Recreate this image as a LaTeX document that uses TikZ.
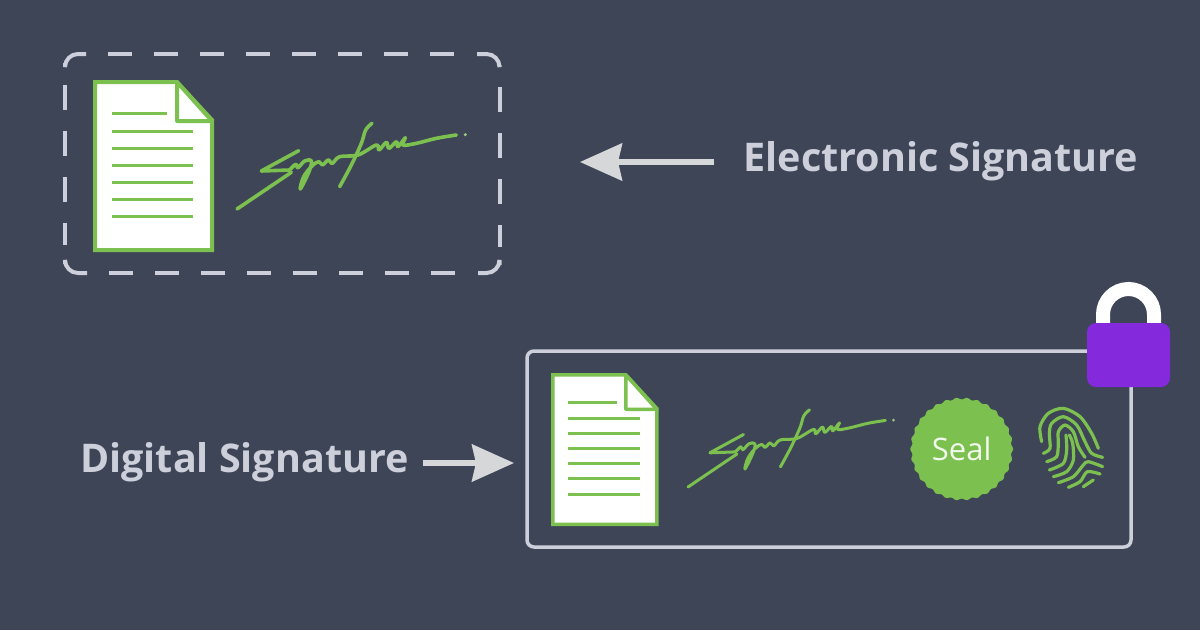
\documentclass[tikz,border=0pt]{standalone}
\usepackage{xcolor}
\usepackage{fontspec}
\setmainfont{Open Sans}
\usetikzlibrary{arrows.meta}
\definecolor{slatebg}{HTML}{3E4557}
\definecolor{framegrey}{HTML}{CDD0DA}
\definecolor{arrowgrey}{HTML}{D5D7D9}
\definecolor{leafgreen}{HTML}{7CC04F}
\definecolor{lockpurple}{HTML}{8529DC}
\tikzset{
    boxframe/.style={draw=framegrey, rounded corners=7pt, inner sep=0pt, outer sep=0pt},
    dashedge/.style={draw=framegrey, line width=4pt, dash pattern=on 24.5pt off 21.5pt},
    dashcorner/.style={draw=framegrey, line width=4pt, rounded corners=13pt},
    titletext/.style={text=framegrey, inner sep=0pt, font=\fontsize{39.5}{42}\selectfont\bfseries},
    bigarrow/.style={-{Stealth[length=42pt, width=37pt, inset=4pt]}, draw=arrowgrey, fill=arrowgrey, line width=5.5pt},
    inkline/.style={draw=leafgreen, line cap=round, line join=round},
    docline/.initial=4pt,
    docsheet/.pic={
        \draw[inkline, line cap=butt, line join=miter, fill=white, line width=\pgfkeysvalueof{/tikz/docline}]
            (2,2) -- (84,2) -- (119,40) -- (119,170) -- (2,170) -- cycle;
        \draw[inkline, line cap=butt, fill=white, line width=\pgfkeysvalueof{/tikz/docline}]
            (84,2) -- (84,41) -- (119,41) -- cycle;
        % Text lines
        \draw[inkline, line cap=butt, line width=3pt] (19,33.5) -- (74,33.5);
        \foreach \liney in {51,68,85,102,119,136} {
            \draw[inkline, line cap=butt, line width=3pt] (19,\liney) -- (100,\liney);
        }
    },
    sigmark/.pic={
        % Long lead-in stroke and first letter
        \draw[inkline, shift={(-22,-282)}] (22,282) -- (185,172);
        \draw[inkline, shift={(-22,-282)}] (207,107) -- (95,168) -- (180,165);
        % Looping letters
        \draw[inkline, shift={(-22,-282)}] plot[smooth, tension=0.6] coordinates {(180,165) (198,148) (205,158) (225,138) (245,138) (238,170) (212,222) (222,185) (248,152) (268,140) (278,150) (296,135) (308,145) (330,125) (385,120) (440,90) (448,105) (470,82) (478,100) (500,80) (505,95) (527,68) (520,90) (560,85) (620,70) (680,60)};
        % Tall cross stroke
        \draw[inkline, shift={(-22,-282)}] plot[smooth, tension=0.6] coordinates {(427,25) (408,45) (395,85) (365,150) (330,215)};
        % Dot
        \fill[leafgreen!60!framegrey, shift={(-22,-282)}] (707,59) circle (5);
    },
    whorl/.pic={
        \begin{scope}[inkline, line width=3.2pt]
            \draw plot[smooth] coordinates {(35,125) (30,80) (55,40) (100,25) (150,50) (185,100) (205,145)};
            \draw plot[smooth] coordinates {(40,160) (60,145) (58,100) (65,70) (100,50) (140,75) (165,125) (185,160) (218,172)};
            \draw plot[smooth] coordinates {(50,185) (80,170) (85,130) (85,95) (105,75) (130,95) (145,140) (165,172)};
            \draw plot[smooth] coordinates {(58,210) (100,190) (110,150) (108,105)};
            \draw plot[smooth] coordinates {(70,230) (110,215) (130,180) (128,130) (118,105)};
            \draw plot[smooth] coordinates {(85,248) (130,230) (160,195) (175,185) (218,200)};
            \draw plot[smooth] coordinates {(115,262) (150,245) (172,215) (210,222)};
            \draw plot[smooth] coordinates {(160,260) (190,240)};
        \end{scope}
    }
}

\begin{document}
\begin{tikzpicture}[x=1pt, y=-1pt]
    \useasboundingbox (0,0) rectangle (1200,630);
    \fill[slatebg] (0,0) rectangle (1200,630);

    % Dashed frame
    \draw[dashedge] (107.5,54) -- (460,54);
    \draw[dashedge] (108.5,273) -- (460,273);
    \draw[dashedge] (65,85) -- (65,245);
    \draw[dashedge] (499.5,87) -- (499.5,247);
    \draw[dashcorner] (65,63) -- (65,54) -- (86,54);
    \draw[dashcorner] (477,54) -- (499.5,54) -- (499.5,65);
    \draw[dashcorner] (65,264) -- (65,273) -- (87,273);
    \draw[dashcorner] (478,273) -- (499.5,273) -- (499.5,265);

    % Solid frame
    \node[boxframe, line width=3.5pt, minimum width=604pt, minimum height=196pt] (dbox) at (829,449) {};

    % Labels
    \node[titletext] (elabel) at (941,161.5) {Electronic Signature};
    \node[titletext] (dlabel) at (244.5,462.5) {Digital Signature};

    % Arrows
    \coordinate (etip) at (580,162);
    \coordinate (dtip) at (514,463);
    \draw[bigarrow, shorten <=29pt] (elabel.west |- etip) -- (etip);
    \draw[bigarrow, shorten <=14pt] (dlabel.east |- dtip) -- (dtip);

    % Documents
    \pic at (93,80) {docsheet};
    \pic[scale=0.89, docline=3.5pt] at (551,373) {docsheet};

    % Signatures
    \pic[scale=1/3, line width=3.6pt] at (237,209) {sigmark};
    \pic[scale=0.3, line width=3pt] at (688,487) {sigmark};

    % Seal
    \fill[leafgreen] plot[domain=0:360, samples=241] ({961.7+(50.5+0.9*cos(30*\x))*cos(\x)}, {449+(50.5+0.9*cos(30*\x))*sin(\x)}) -- cycle;
    \node[text=white!90!leafgreen, inner sep=0pt, font=\fontsize{31}{33}\selectfont] (seal) at (961.7,449) {Seal};

    % Fingerprint
    \pic[scale=1/3] at (1030,400) {whorl};

    % Padlock
    \draw[white, line width=14pt] (1103,326) -- (1103,314.5) arc[start angle=180, end angle=360, radius=25.5] -- (1154,326);
    \node[fill=lockpurple, rounded corners=9pt, inner sep=0pt, outer sep=0pt, minimum width=83pt, minimum height=64pt] (lockbody) at (1128.5,355) {};
\end{tikzpicture}
\end{document}
